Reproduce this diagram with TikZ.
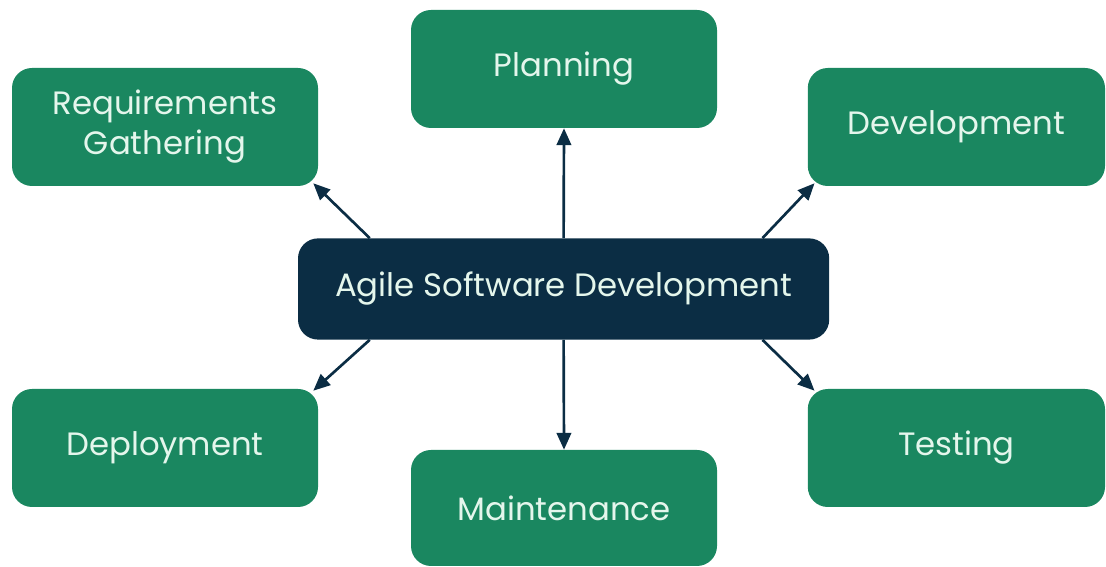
\documentclass[tikz,border=0pt]{standalone}
\usepackage{fontspec}
\setmainfont{Poppins}
\usetikzlibrary{arrows.meta, positioning}
\definecolor{phasegreen}{HTML}{1A8760}
\definecolor{hubnavy}{HTML}{0B2D44}
\definecolor{labelmint}{HTML}{E4F6EC}

\begin{document}
\begin{tikzpicture}[
    phase/.style={rectangle, rounded corners=0.5cm, fill=phasegreen,
                  minimum width=7.65cm, minimum height=2.95cm,
                  text=labelmint, align=center,
                  font=\fontsize{23}{28.5}\selectfont},
    hub/.style={rectangle, rounded corners=0.5cm, fill=hubnavy,
                minimum width=13.28cm, minimum height=2.53cm,
                text=labelmint, font=\fontsize{23}{28}\selectfont},
    link/.style={draw=hubnavy, line width=1.9pt,
                 -{Triangle[length=0.42cm, width=0.36cm]}}]
      \useasboundingbox (0,0) rectangle (27.65,14.175);

      % Central hub
      \node (asd) [hub] at (14.09,6.95) {Agile Software Development};

      % Phase boxes around it
      \node (plan) [phase] at (14.1,12.45) {Planning};
      \node (req)  [phase] at (4.125,11.0) {Requirements\\Gathering};
      \node (dev)  [phase, minimum width=7.43cm] at (23.91,11.0) {Development};
      \node (dep)  [phase] at (4.125,2.975) {Deployment};
      \node (main) [phase, minimum height=2.9cm] at (14.1,1.475) {Maintenance};
      \node (test) [phase, minimum width=7.43cm] at (23.91,2.975) {Testing};

      % Arrows out of the hub
      \draw[link] (asd.north) -- (plan.south);
      \draw[link] (asd.south) -- (main.north);
      \draw[link] ([xshift=1.8cm]asd.north west) -- ([shift={(-0.125,0.075)}]req.south east);
      \draw[link] ([xshift=-1.675cm]asd.north east) -- ([shift={(0.175,0.075)}]dev.south west);
      \draw[link] ([xshift=1.8cm]asd.south west) -- ([shift={(-0.125,-0.05)}]dep.north east);
      \draw[link] ([xshift=-1.675cm]asd.south east) -- ([shift={(0.175,-0.05)}]test.north west);
    \end{tikzpicture}
\end{document}
